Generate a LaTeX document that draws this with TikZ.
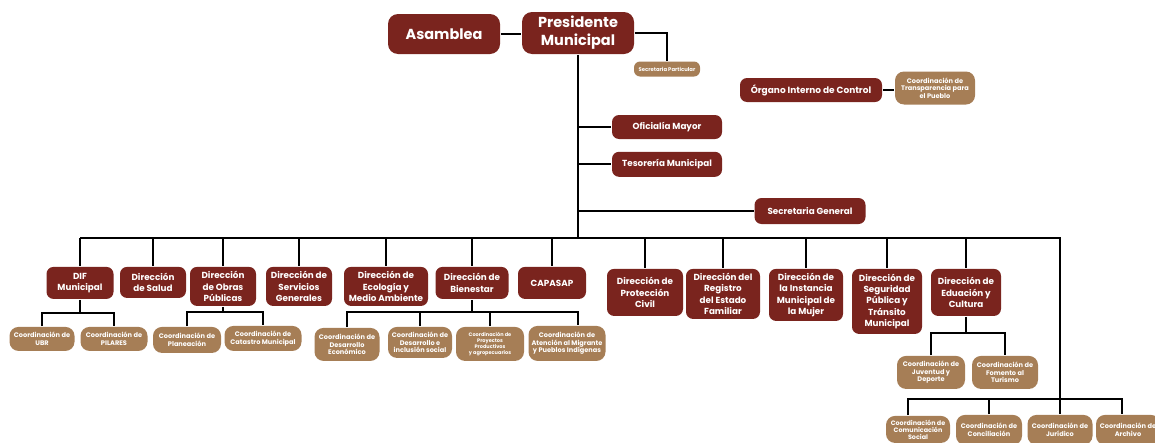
\documentclass[tikz,border=0pt]{standalone}
\usepackage{fontspec}
\setmainfont{Poppins}
\usetikzlibrary{positioning}
\definecolor{vino}{RGB}{122,36,30}
\definecolor{arena}{RGB}{166,126,86}

\begin{document}
\begin{tikzpicture}[%
        x=1pt, y=-1pt,
        line width=1.8pt,
        dir/.style={fill=vino, text=white, rounded corners=7pt, align=center,
            inner sep=1pt, font=\bfseries\fontsize{8.8}{11.2}\selectfont},
        big/.style={dir, rounded corners=10pt, font=\bfseries\fontsize{14.5}{18}\selectfont},
        coord/.style={fill=arena, text=white, rounded corners=9pt, align=center,
            inner sep=1pt, font=\bfseries\fontsize{6.6}{7.6}\selectfont}
        ]
        \useasboundingbox (0,0) rectangle (1155,442);
        \clip (0,0) rectangle (1155,442);

        % cabeza
        \node[big, minimum width=112, minimum height=40] (asamblea) at (444,34) {Asamblea};
        \node[big, minimum width=112, minimum height=42] (pres) at (578,33) {Presidente\\Municipal};
        \node[coord, rounded corners=6pt, minimum width=66, minimum height=15,
            font=\bfseries\fontsize{5.3}{6}\selectfont] (secpart) at (667,69) {Secretaria Particular};
        \node[dir, minimum width=142, minimum height=24,
            font=\bfseries\fontsize{9}{11}\selectfont] (organo) at (811,90) {Órgano Interno de Control};
        \node[coord, minimum width=80, minimum height=33] (transp) at (935,88) {Coordinación de\\Transparencia para\\el Pueblo};
        \node[dir, minimum width=110, minimum height=24] (oficialia) at (667,127) {Oficialía Mayor};
        \node[dir, minimum width=110, minimum height=25, below=11pt of oficialia] (tesoreria) {Tesorería Municipal};
        \node[dir, minimum width=111, minimum height=26] (secgen) at (810,211) {Secretaria General};

        % direcciones
        \node[dir, anchor=north, minimum width=67, minimum height=32] (dif) at (80,266) {DIF\\Municipal};
        \node[dir, anchor=north, minimum width=66, minimum height=31] (salud) at (153,266) {Dirección\\de Salud};
        \node[dir, anchor=north, minimum width=66, minimum height=39] (obras) at (223,266) {Dirección\\de Obras\\Públicas};
        \node[dir, anchor=north, minimum width=66, minimum height=39] (servicios) at (299,266) {Dirección de\\Servicios\\Generales};
        \node[dir, anchor=north, minimum width=84, minimum height=39] (ecologia) at (386,266) {Dirección de\\Ecología y\\Medio Ambiente};
        \node[dir, anchor=north, minimum width=73, minimum height=32] (bienestar) at (472,266) {Dirección de\\Bienestar};
        \node[dir, anchor=north, minimum width=68, minimum height=32] (capasap) at (552,266) {CAPASAP};
        \node[dir, anchor=north, minimum width=76, minimum height=47] (proteccion) at (645,268) {Dirección de\\Protección\\Civil};
        \node[dir, anchor=north, minimum width=74, minimum height=50] (registro) at (723,268) {Dirección del\\Registro\\del Estado\\Familiar};
        \node[dir, anchor=north, minimum width=74, minimum height=52] (mujer) at (806,268) {Dirección de\\la Instancia\\Municipal de\\la Mujer};
        \node[dir, anchor=north, minimum width=70, minimum height=65] (seguridad) at (887,268) {Dirección de\\Seguridad\\Pública y\\Tránsito\\Municipal};
        \node[dir, anchor=north, minimum width=70, minimum height=47] (educacion) at (966,268) {Dirección de\\Eduación y\\Cultura};

        % coordinaciones
        \node[coord, anchor=north, minimum width=65, minimum height=24] (ubr) at (42,326) {Coordinación de\\UBR};
        \node[coord, anchor=north, minimum width=67, minimum height=24] (pilares) at (114,326) {Coordinación de\\PILARES};
        \node[coord, anchor=north, minimum width=68, minimum height=26] (planeacion) at (187,326) {Coordinación de\\Planeación};
        \node[coord, anchor=north, minimum width=77, minimum height=25] (catastro) at (263,325) {Coordinación de\\Catastro Municipal};
        \node[coord, anchor=north, minimum width=65, minimum height=33] (deseco) at (347,327) {Coordinación de\\Desarrollo\\Económico};
        \node[coord, anchor=north, minimum width=64, minimum height=31] (desinc) at (420,326) {Coordinación de\\Desarrollo e\\inclusión social};
        \node[coord, anchor=north, minimum width=68, minimum height=34,
            font=\bfseries\fontsize{5}{6}\selectfont] (proyectos) at (490,326) {Coordinación de\\Proyectos\\Productivos\\y agropecuarios};
        \node[coord, anchor=north, minimum width=77, minimum height=35] (migrante) at (567,325) {Coordinación de\\Atención al Migrante\\y Pueblos Indígenas};
        \node[coord, anchor=north, minimum width=68, minimum height=33] (juventud) at (931,355) {Coordinación de\\Juventud y\\Deporte};
        \node[coord, anchor=north, minimum width=66, minimum height=33] (fomento) at (1005,355) {Coordinación de\\Fomento al\\Turismo};
        \node[coord, anchor=north, minimum width=64, minimum height=27,
            font=\bfseries\fontsize{6.4}{7}\selectfont] (comunicacion) at (918,415) {Coordinación de\\Comunicación\\Social};
        \node[coord, anchor=north, minimum width=66, minimum height=30] (conciliacion) at (989,414) {Coordinación de\\Conciliación};
        \node[coord, anchor=north, minimum width=65, minimum height=30] (juridico) at (1060,414) {Coordinación de\\Jurídico};
        \node[coord, anchor=north, minimum width=64, minimum height=30] (archivo) at (1128,414) {Coordinación de\\Archivo};

        % lineas
        \coordinate (bus) at (0,238);
        \coordinate (esq) at (1060,238);
        \coordinate (bajo) at (1060,399);
        \coordinate (difsub) at (80,313);
        \coordinate (obrassub) at (223,312);
        \coordinate (biensub) at (472,312);
        \coordinate (edusub) at (966,333);

        \draw (asamblea.east) -- (asamblea.east -| pres.west);
        \draw (pres.east) -| (secpart.north);
        \draw (pres.south) -- (pres.south |- bus);
        \draw (organo.east) -- (organo.east -| transp.west);
        \draw (pres.south |- oficialia) -- (oficialia.west);
        \draw (pres.south |- tesoreria) -- (tesoreria.west);
        \draw (pres.south |- secgen) -- (secgen.west);

        \draw (dif.north |- bus) -- (esq) -- (bajo);
        \foreach \n in {dif,salud,obras,servicios,ecologia,bienestar,capasap,
            proteccion,registro,mujer,seguridad,educacion}
            \draw (\n.north |- bus) -- (\n.north);

        % sub niveles
        \draw (dif.south) -- (difsub);
        \draw (ubr.north) |- (difsub) -| (pilares.north);
        \draw (obras.south) -- (obrassub);
        \draw (planeacion.north) |- (obrassub) -| (catastro.north);
        \draw (bienestar.south) -- (biensub);
        \draw (deseco.north) |- (biensub) -| ([xshift=11pt]migrante.north);
        \draw (desinc.north) -- (desinc.north |- biensub);
        \draw (proyectos.north) -- (proyectos.north |- biensub);
        \draw (educacion.south) -- (edusub);
        \draw (juventud.north) |- (edusub) -| (fomento.north);
        \draw ([xshift=-10pt]comunicacion.north) |- (bajo) -| ([xshift=-6pt]archivo.north);
        \draw (conciliacion.north) -- (conciliacion.north |- bajo);
        \draw (bajo) -- (juridico.north);
\end{tikzpicture}
\end{document}
